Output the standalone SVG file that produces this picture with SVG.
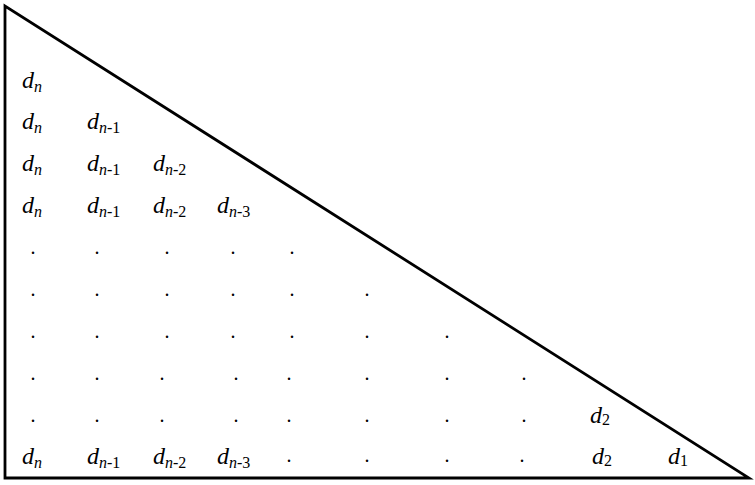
<svg xmlns="http://www.w3.org/2000/svg" width="755" height="485" viewBox="0 0 755 485">
<style>
.t{font-family:"Liberation Serif","Times New Roman",serif;font-size:24px;font-style:italic;fill:#000}
.s{font-size:16px}
.u{font-style:normal}
.dot{font-family:"Liberation Serif","Times New Roman",serif;font-size:20px;fill:#000;text-anchor:middle}
</style>
<rect width="755" height="485" fill="#fff"/>
<g id="triangle">
<polygon points="5,6 5,478 749,478" fill="none" stroke="#000" stroke-width="2.8" stroke-linejoin="miter"/>
</g>
<g id="labels">
<text class="t" x="22" y="88">d<tspan class="s" dy="4">n</tspan></text>
<text class="t" x="22" y="129">d<tspan class="s" dy="4">n</tspan></text>
<text class="t" x="87" y="129">d<tspan class="s" dy="4">n</tspan><tspan class="s u">-1</tspan></text>
<text class="t" x="22" y="171">d<tspan class="s" dy="4">n</tspan></text>
<text class="t" x="87" y="171">d<tspan class="s" dy="4">n</tspan><tspan class="s u">-1</tspan></text>
<text class="t" x="153" y="171">d<tspan class="s" dy="4">n</tspan><tspan class="s u">-2</tspan></text>
<text class="t" x="22" y="213">d<tspan class="s" dy="4">n</tspan></text>
<text class="t" x="87" y="213">d<tspan class="s" dy="4">n</tspan><tspan class="s u">-1</tspan></text>
<text class="t" x="153" y="213">d<tspan class="s" dy="4">n</tspan><tspan class="s u">-2</tspan></text>
<text class="t" x="217" y="213">d<tspan class="s" dy="4">n</tspan><tspan class="s u">-3</tspan></text>
<text class="t" x="590" y="423">d<tspan class="s u" dy="2">2</tspan></text>
<text class="t" x="22" y="464">d<tspan class="s" dy="4">n</tspan></text>
<text class="t" x="87" y="464">d<tspan class="s" dy="4">n</tspan><tspan class="s u">-1</tspan></text>
<text class="t" x="153" y="464">d<tspan class="s" dy="4">n</tspan><tspan class="s u">-2</tspan></text>
<text class="t" x="217" y="464">d<tspan class="s" dy="4">n</tspan><tspan class="s u">-3</tspan></text>
<text class="t" x="592" y="464">d<tspan class="s u" dy="2">2</tspan></text>
<text class="t" x="668" y="464">d<tspan class="s u" dy="2">1</tspan></text>
</g>
<g id="dots">
<text class="dot" x="33" y="254">.</text><text class="dot" x="97" y="254">.</text><text class="dot" x="167" y="254">.</text><text class="dot" x="233" y="254">.</text><text class="dot" x="292" y="254">.</text>
<text class="dot" x="33" y="296">.</text><text class="dot" x="97" y="296">.</text><text class="dot" x="167" y="296">.</text><text class="dot" x="233" y="296">.</text><text class="dot" x="292" y="296">.</text><text class="dot" x="367" y="296">.</text>
<text class="dot" x="33" y="338">.</text><text class="dot" x="97" y="338">.</text><text class="dot" x="167" y="338">.</text><text class="dot" x="233" y="338">.</text><text class="dot" x="292" y="338">.</text><text class="dot" x="367" y="338">.</text><text class="dot" x="447" y="338">.</text>
<text class="dot" x="33" y="380">.</text><text class="dot" x="97" y="380">.</text><text class="dot" x="162" y="380">.</text><text class="dot" x="236" y="380">.</text><text class="dot" x="289" y="380">.</text><text class="dot" x="367" y="380">.</text><text class="dot" x="447" y="380">.</text><text class="dot" x="524" y="380">.</text>
<text class="dot" x="33" y="422">.</text><text class="dot" x="97" y="422">.</text><text class="dot" x="162" y="422">.</text><text class="dot" x="236" y="422">.</text><text class="dot" x="289" y="422">.</text><text class="dot" x="367" y="422">.</text><text class="dot" x="447" y="422">.</text><text class="dot" x="524" y="422">.</text>
<text class="dot" x="289" y="462">.</text><text class="dot" x="367" y="462">.</text><text class="dot" x="447" y="462">.</text><text class="dot" x="522" y="462">.</text>
</g>
</svg>
